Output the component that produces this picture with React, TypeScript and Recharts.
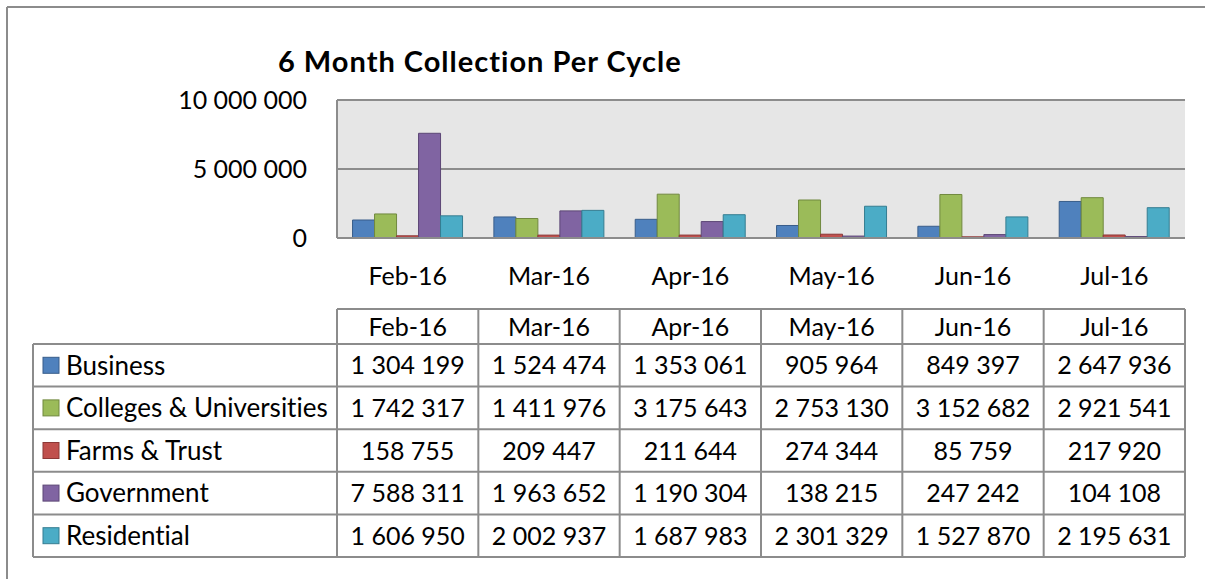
import React from 'react';
import { BarChart, Bar, XAxis, YAxis, CartesianGrid } from 'recharts';

const months = ['Feb-16', 'Mar-16', 'Apr-16', 'May-16', 'Jun-16', 'Jul-16'];
const business = [1304199, 1524474, 1353061, 905964, 849397, 2647936];
const colleges = [1742317, 1411976, 3175643, 2753130, 3152682, 2921541];
const farms = [158755, 209447, 211644, 274344, 85759, 217920];
const government = [7588311, 1963652, 1190304, 138215, 247242, 104108];
const residential = [1606950, 2002937, 1687983, 2301329, 1527870, 2195631];
const yTicks = [0, 5000000, 10000000];

const SERIES = [
  { key: 'business', name: 'Business', values: business, fill: '#4F81BD', stroke: '#385D8A' },
  { key: 'colleges', name: 'Colleges & Universities', values: colleges, fill: '#9BBB59', stroke: '#71893F' },
  { key: 'farms', name: 'Farms & Trust', values: farms, fill: '#C0504D', stroke: '#8C3836' },
  { key: 'government', name: 'Government', values: government, fill: '#8064A2', stroke: '#5C4776' },
  { key: 'residential', name: 'Residential', values: residential, fill: '#4BACC6', stroke: '#357D91' },
];

const W = 1205;
const H = 579;
const PLOT_L = 337;
const PLOT_R = 1185;
const PLOT_T = 100;
const PLOT_B = 238;
const FONT = 'Lato, "Open Sans", sans-serif';
const FS = 25;
const LINE = '#8C8C8C';

const fmt = (n: number) => n.toString().replace(/\B(?=(\d{3})+(?!\d))/g, ' ');

const data = months.map((m, i) => {
  const row: any = { month: m };
  SERIES.forEach((s) => { row[s.key] = s.values[i]; });
  return row;
});

function DataTable() {
  const band = (PLOT_R - PLOT_L) / months.length;
  const colX = months.map((_, i) => PLOT_L + i * band);
  const headTop = 309;
  const headBot = 344;
  const tableBot = 557;
  const rowH = (tableBot - headBot) / SERIES.length;
  const tableL = 33;
  return (
    <g fontFamily={FONT} fontSize={FS} fill="#000">
      {/* header row */}
      <line x1={PLOT_L} x2={PLOT_R} y1={headTop} y2={headTop} stroke={LINE} strokeWidth={2} />
      {[...colX, PLOT_R].map((x, i) => (
        <line key={`v${i}`} x1={x} x2={x} y1={headTop} y2={tableBot} stroke={LINE} strokeWidth={2} />
      ))}
      <line x1={tableL} x2={tableL} y1={headBot} y2={tableBot} stroke={LINE} strokeWidth={2} />
      {SERIES.map((_, r) => (
        <line key={`h${r}`} x1={tableL} x2={PLOT_R} y1={headBot + r * rowH} y2={headBot + r * rowH} stroke={LINE} strokeWidth={2} />
      ))}
      <line x1={tableL} x2={PLOT_R} y1={tableBot} y2={tableBot} stroke={LINE} strokeWidth={2} />
      {months.map((m, i) => (
        <text key={m} x={colX[i] + band / 2} y={(headTop + headBot) / 2} dy="0.36em" textAnchor="middle">{m}</text>
      ))}
      {SERIES.map((s, r) => {
        const cy = headBot + r * rowH + rowH / 2;
        return (
          <g key={s.key}>
            <rect x={43} y={cy - 8} width={16} height={16} fill={s.fill} stroke={s.stroke} strokeWidth={1} />
            <text x={66} y={cy} dy="0.36em" fontSize={26}>{s.name}</text>
            {s.values.map((v, i) => (
              <text key={i} x={colX[i] + band / 2} y={cy} dy="0.36em" textAnchor="middle">{fmt(v)}</text>
            ))}
          </g>
        );
      })}
    </g>
  );
}

export default function App() {
  return (
    <div style={{ position: 'absolute', left: 0, top: 0, width: W, height: H, background: '#fff', fontVariantLigatures: 'none' }}>
      <BarChart
        width={W}
        height={H}
        data={data}
        margin={{ top: PLOT_T, right: W - PLOT_R, bottom: H - PLOT_B - 60, left: 0 }}
        barCategoryGap="11%"
        barGap={0}
      >
        <CartesianGrid vertical={false} stroke={LINE} strokeWidth={2} fill="#E6E6E6" fillOpacity={1} />
        <XAxis
          dataKey="month"
          height={60}
          tickLine={false}
          axisLine={{ stroke: LINE, strokeWidth: 2 }}
          tickMargin={23}
          tick={{ fontSize: FS, fontFamily: FONT, fill: '#000' }}
        />
        <YAxis
          width={PLOT_L}
          domain={[0, 10000000]}
          ticks={yTicks}
          tickFormatter={fmt}
          tickLine={false}
          axisLine={{ stroke: LINE, strokeWidth: 2 }}
          tickMargin={24}
          tick={{ fontSize: FS, fontFamily: FONT, fill: '#000' }}
        />
        {SERIES.map((s) => (
          <Bar key={s.key} dataKey={s.key} name={s.name} fill={s.fill} stroke={s.stroke} strokeWidth={1} isAnimationActive={false} />
        ))}
      </BarChart>
      <svg width={W} height={H} style={{ position: 'absolute', left: 0, top: 0, pointerEvents: 'none' }}>
        <line x1={7} x2={W} y1={7} y2={7} stroke={LINE} strokeWidth={2} />
        <line x1={7} x2={7} y1={7} y2={H} stroke={LINE} strokeWidth={2} />
        <text x={278} y={72} fontFamily={FONT} fontSize={29} fontWeight="bold" letterSpacing={1} fill="#000">6 Month Collection Per Cycle</text>
        <DataTable />
      </svg>
    </div>
  );
}
